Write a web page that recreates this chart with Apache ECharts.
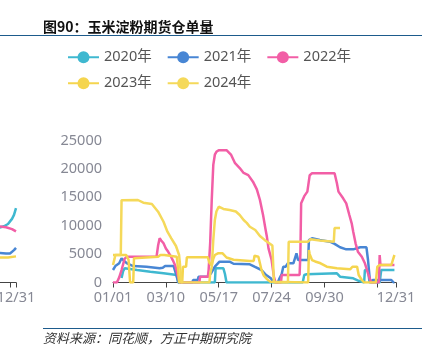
<!DOCTYPE html>
<html><head><meta charset="utf-8">
<script src="https://cdn.jsdelivr.net/npm/echarts@6/dist/echarts.min.js"></script>
<style>html,body{margin:0;padding:0;background:#fff}#c{width:441px;height:360px}</style>
</head><body><div id="c"></div>
<script>
const titleText = '图90：玉米淀粉期货仓单量';
const sourceText = '资料来源：同花顺，方正中期研究院';
const seriesNames = ['2020年', '2021年', '2022年', '2023年', '2024年'];
const seriesColors = ['#3fb8d0', '#4886d4', '#f25ea6', '#f5d54e', '#f5d95a'];
const yMax = 25000, yStep = 5000;
const tickDays = [0, 68, 136, 204, 272, 340, 364];
const labelDays = [0, 68, 136, 204, 272, 364];

// day index (0 = 01/01) , value
const s2020 = [[11,800],[13,2000],[15,2500],[31,2200],[48,1900],[65,1620],[82,1320],[83,600],[84,0],[131,0],[132,2500],[142,2500],[144,1500],[146,0],[244,0],[246,1320],[249,1450],[251,1620],[288,1620],[292,1020],[309,740],[316,300],[320,140],[322,0],[323,0],[324,2200],[328,2200],[330,0],[343,0],[345,2200],[362,2200]];
const s2021 = [[0,2200],[3,2900],[5,3080],[8,3400],[11,4260],[13,4260],[15,3700],[18,3380],[26,2900],[43,2780],[60,2500],[64,2600],[67,2900],[78,2900],[81,1500],[84,0],[102,0],[103,440],[109,440],[110,1020],[122,1020],[126,1600],[131,2780],[137,3660],[150,3660],[155,3300],[176,3200],[182,2780],[191,2200],[197,1320],[203,740],[206,140],[208,0],[212,0],[214,700],[217,1500],[219,2780],[222,2780],[225,3380],[232,3380],[234,4260],[236,5140],[238,3960],[251,3960],[252,7480],[256,7780],[266,7500],[279,7180],[285,6800],[292,6200],[300,5840],[309,5840],[318,6200],[326,6200],[328,3960],[330,1000],[331,0],[333,0],[334,440],[358,440],[361,0],[362,0]];
const s2022 = [[0,0],[5,0],[8,900],[11,2200],[13,3200],[15,4200],[18,4540],[56,4540],[58,6500],[60,7800],[62,7400],[65,6900],[68,6000],[71,5400],[74,4700],[77,3900],[80,3000],[82,2000],[84,900],[86,0],[111,0],[112,1000],[122,1000],[123,2200],[125,7000],[127,14500],[129,20700],[131,22500],[133,23000],[136,23300],[146,23300],[148,23000],[152,22450],[157,21000],[163,20150],[168,19280],[174,18900],[180,17750],[185,16400],[189,14525],[193,11900],[196,9500],[198,8000],[200,6000],[204,3960],[207,1020],[209,0],[216,0],[217,1320],[240,1320],[241,5000],[242,13940],[246,15200],[250,16000],[253,18900],[256,19220],[285,19220],[288,17460],[290,16000],[296,14820],[300,13940],[304,11880],[307,10420],[309,8940],[312,6900],[315,5420],[320,4540],[324,3380],[328,1620],[332,0],[342,0],[343,4840],[344,3080],[362,3080]];
const s2023 = [[0,4840],[17,4840],[20,4000],[21,2000],[22,0],[26,0],[27,4250],[29,4540],[58,4540],[61,4840],[66,4840],[68,4540],[82,4540],[84,2000],[85,0],[89,0],[90,2780],[94,2780],[95,4440],[122,4440],[124,3500],[127,3000],[129,4200],[131,4840],[135,5140],[141,5140],[146,4400],[155,4000],[176,3800],[181,3800],[182,4700],[187,4540],[189,3380],[191,2200],[194,1200],[198,600],[202,150],[204,0],[251,0],[252,5720],[253,5000],[256,3960],[260,3700],[267,3380],[275,2780],[288,2500],[305,2320],[308,2780],[314,2780],[316,1320],[320,440],[323,0],[338,0],[340,2780],[343,3080],[358,3080],[360,4000],[362,4840]];
const s2024 = [[0,3080],[2,4200],[3,4840],[10,4840],[11,14500],[32,14525],[39,14050],[50,13820],[58,12465],[65,10700],[70,8940],[75,7780],[81,6425],[85,4840],[87,2000],[88,0],[124,0],[125,1500],[127,2780],[129,7480],[131,11000],[133,12500],[136,13345],[142,12950],[150,12760],[158,12500],[163,11880],[168,11000],[172,10500],[176,9820],[183,9240],[189,8200],[195,7500],[200,7000],[205,6500],[206,6300],[207,0],[225,0],[226,7180],[251,7180],[254,7600],[266,7400],[284,7180],[285,9600],[292,9600]];

// tail of the neighbouring chart on the left (index 0 = 12/08, 23 = 12/31)
const prev2020 = [[14,9600],[15,9800],[17,9900],[18,10000],[19,10300],[20,10600],[21,11200],[22,11900],[23,13100]];
const prev2021 = [[14,5200],[15,5200],[18,5100],[20,5100],[21,5300],[22,5700],[23,6100]];
const prev2022 = [[14,9900],[15,9820],[18,9720],[21,9400],[23,9000]];
const prev2023 = [[14,4400],[19,4400],[20,4600],[23,4600]];

const days = [];
for (let d = new Date(2023, 0, 1); d.getFullYear() === 2023; d.setDate(d.getDate() + 1)) {
  days.push(String(d.getMonth() + 1).padStart(2, '0') + '/' + String(d.getDate()).padStart(2, '0'));
}
const prevDays = days.slice(days.length - 24);

const font = '"Noto Sans", "Noto Sans CJK SC", sans-serif';
const labelColor = '#868894';
const axisColor = '#444';

const mainData = [s2020, s2021, s2022, s2023, s2024];
const prevData = [prev2020, prev2021, prev2022, prev2023];

const series = [];
mainData.forEach((d, i) => series.push({
  name: seriesNames[i], type: 'line', data: d, xAxisIndex: 0, yAxisIndex: 0,
  symbol: 'circle', showSymbol: false, color: seriesColors[i],
  lineStyle: { width: 2.5, color: seriesColors[i] }, silent: true
}));
prevData.forEach((d, i) => series.push({
  name: seriesNames[i], type: 'line', data: d, xAxisIndex: 1, yAxisIndex: 1,
  symbol: 'circle', showSymbol: false, color: seriesColors[i],
  lineStyle: { width: 2.5, color: seriesColors[i] }, silent: true
}));

const legendCommon = {
  left: 67, padding: 0, itemWidth: 31, itemHeight: 15, itemGap: 15,
  textStyle: { fontSize: 14.5, color: '#555555', fontFamily: font },
  selectedMode: false
};

const chart = echarts.init(document.getElementById('c'), null, { renderer: 'canvas' });
chart.setOption({
  animation: false,
  backgroundColor: '#fff',
  textStyle: { fontFamily: font },
  legend: [
    Object.assign({ top: 50, data: seriesNames.slice(0, 3) }, legendCommon),
    Object.assign({ top: 76, data: seriesNames.slice(3) }, legendCommon)
  ],
  grid: [
    { left: 113, right: 45, top: 140.5, bottom: 77.5, outerBoundsMode: 'none' },
    { left: -30, right: 425, top: 140.5, bottom: 77.5, outerBoundsMode: 'none' }
  ],
  xAxis: [
    {
      type: 'category', gridIndex: 0, data: days, boundaryGap: false,
      axisLine: { lineStyle: { color: axisColor, width: 1 } },
      axisTick: { interval: (i) => tickDays.includes(i), length: 5, lineStyle: { color: axisColor } },
      axisLabel: { interval: (i) => labelDays.includes(i), color: labelColor, fontSize: 14.5, margin: 8, fontFamily: font },
      splitLine: { show: false }
    },
    {
      type: 'category', gridIndex: 1, data: prevDays, boundaryGap: false,
      axisLine: { lineStyle: { color: axisColor, width: 1 } },
      axisTick: { interval: (i) => i === 20 || i === 23, length: 5, lineStyle: { color: axisColor } },
      axisLabel: { interval: (i) => i === 23, color: labelColor, fontSize: 14.5, margin: 8, fontFamily: font },
      splitLine: { show: false }
    }
  ],
  yAxis: [
    {
      type: 'value', gridIndex: 0, min: 0, max: yMax, interval: yStep,
      axisLine: { show: false }, axisTick: { show: false }, splitLine: { show: false },
      axisLabel: { color: labelColor, fontSize: 14.5, margin: 11, fontFamily: font, formatter: (v) => String(v) }
    },
    {
      type: 'value', gridIndex: 1, min: 0, max: yMax, interval: yStep, show: false,
      splitLine: { show: false }
    }
  ],
  graphic: [
    { type: 'line', shape: { x1: 0, y1: 35.5, x2: 422, y2: 35.5 }, style: { stroke: '#1d5b8c', lineWidth: 1 }, silent: true },
    { type: 'text', x: 43, y: 27, style: { text: titleText, font: 'bold 14px "Noto Sans CJK SC", sans-serif', fill: '#111', verticalAlign: 'middle' }, silent: true },
    { type: 'line', shape: { x1: 43, y1: 328.5, x2: 422, y2: 328.5 }, style: { stroke: '#1d5b8c', lineWidth: 1 }, silent: true },
    { type: 'text', x: 43, y: 338, style: { text: sourceText, font: 'italic 13px "Noto Sans CJK SC", sans-serif', fill: '#333', verticalAlign: 'middle' }, silent: true }
  ],
  series: series
});
</script>
</body></html>
